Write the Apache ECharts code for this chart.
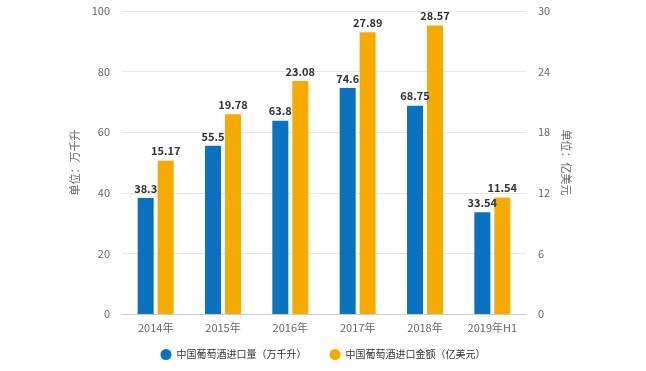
<!DOCTYPE html>
<html><head><meta charset="utf-8">
<script src="https://cdn.jsdelivr.net/npm/echarts@6/dist/echarts.min.js"></script>
<style>html,body{margin:0;padding:0;background:#fff}#c{width:646px;height:371px}</style>
</head><body><div id="c"></div>
<script>
const categories = ['2014年','2015年','2016年','2017年','2018年','2019年H1'];
const volume = [38.3, 55.5, 63.8, 74.6, 68.75, 33.54];
const amount = [15.17, 19.78, 23.08, 27.89, 28.57, 11.54];
const leftTicks = {min:0, max:100, interval:20};
const rightTicks = {min:0, max:30, interval:6};
const seriesNames = ['中国葡萄酒进口量（万千升）','中国葡萄酒进口金额（亿美元）'];

const font = '"Noto Sans CJK SC", "Noto Sans", sans-serif';
const chart = echarts.init(document.getElementById('c'));
chart.setOption({
  animation:false,
  textStyle:{fontFamily:font},
  grid:{left:122, right:120, top:11, bottom:57},
  legend:{bottom:6, left:'center', itemWidth:11, itemHeight:11, itemGap:23, icon:'circle',
    textStyle:{fontSize:10, color:'#333', fontFamily:font}, data:seriesNames},
  xAxis:{type:'category', data:categories,
    axisLine:{lineStyle:{color:'#ccc'}}, axisTick:{alignWithLabel:true, lineStyle:{color:'#ccc'}},
    axisLabel:{color:'#666', fontSize:11, margin:8}},
  yAxis:[
    {type:'value', min:leftTicks.min, max:leftTicks.max, interval:leftTicks.interval,
     name:'单位：万千升', nameLocation:'middle', nameGap:40, nameRotate:90,
     nameTextStyle:{color:'#666', fontSize:11},
     axisLabel:{color:'#666', fontSize:11, margin:12},
     splitLine:{lineStyle:{color:'#e6e6e6'}}, axisLine:{show:false}, axisTick:{show:false}},
    {type:'value', position:'right', min:rightTicks.min, max:rightTicks.max, interval:rightTicks.interval,
     name:'单位：亿美元', nameLocation:'middle', nameGap:33, nameRotate:-90,
     nameTextStyle:{color:'#666', fontSize:11},
     axisLabel:{color:'#666', fontSize:11, margin:12},
     splitLine:{show:false}, axisLine:{show:false}, axisTick:{show:false}}
  ],
  series:[
    {name:seriesNames[0], type:'bar', yAxisIndex:0, data:volume, barWidth:16, barGap:'25%',
     itemStyle:{color:'#0a72c1'},
     label:{show:true, position:'top', color:'#333', fontWeight:'bold', fontSize:11, distance:4}},
    {name:seriesNames[1], type:'bar', yAxisIndex:1, data:amount, barWidth:16,
     itemStyle:{color:'#f7aa00'},
     label:{show:true, position:'top', color:'#333', fontWeight:'bold', fontSize:11, distance:4}}
  ]
});
</script></body></html>
